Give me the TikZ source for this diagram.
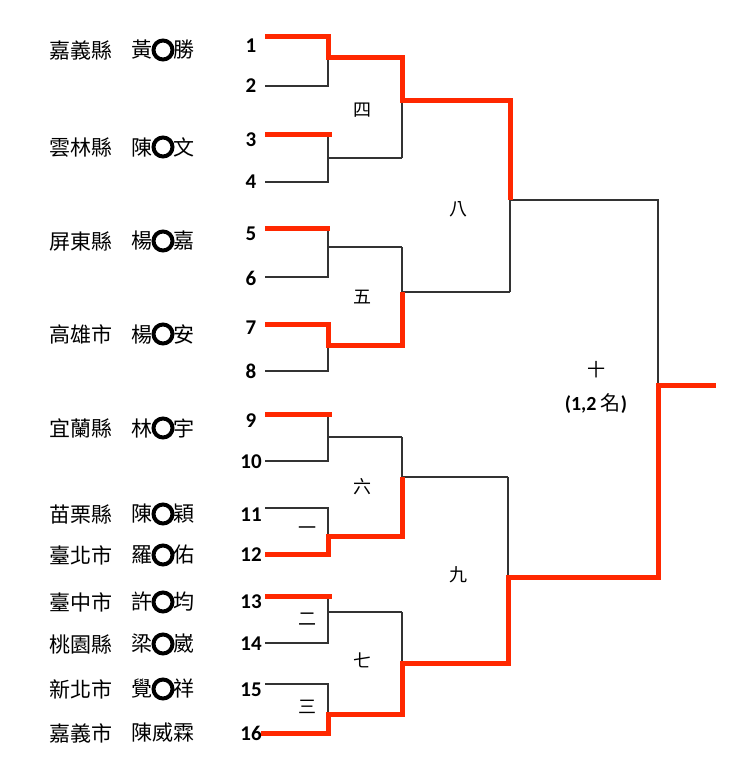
\documentclass[tikz,border=0pt]{standalone}
\usepackage{fontspec}
\setmainfont{Carlito}
\newfontfamily\cjk{Noto Sans CJK TC}
\usepackage{tikz}
\usetikzlibrary{calc, positioning}
\definecolor{winred}{RGB}{255,40,0}
\tikzstyle{num}=[inner sep=0pt, font=\fontsize{21}{21}\selectfont\bfseries]
\tikzstyle{nm}=[inner sep=0pt, font=\fontsize{21}{21}\selectfont\cjk]
\tikzstyle{rnd}=[inner sep=0pt, font=\fontsize{18}{18}\selectfont\cjk]
\tikzstyle{hide}=[draw, shape=circle, fill=white, line width=4pt, inner sep=0pt, minimum size=19pt]
\tikzstyle{lose}=[line width=1.5pt, black!80]
\tikzstyle{won}=[line width=5pt, winred]

\begin{document}
\begin{tikzpicture}[x=1pt, y=-1pt]
\useasboundingbox (0,0) rectangle (734,757);

% draw numbers and entry lines
\foreach \i/\y/\ly in {1/37/46, 2/86/86, 3/134/140, 4/182/182, 5/228/234, 6/277/278, 7/324/328, 8/371/371, 9/414/421, 10/461/462, 11/508/515, 12/554/555, 13/596/602, 14/643/644, 15/684/690, 16/733/733}{
\node[num] (n\i) at (251,\ly) {\i};
\coordinate (s\i) at (265,\y);
\coordinate (e\i) at (328,\y);
}

% players
\foreach \k/\y/\c/\a/\b in {1/50/嘉義縣/黃/勝, 3/147/雲林縣/陳/文, 5/241/屏東縣/楊/嘉, 7/334/高雄市/楊/安, 9/428/宜蘭縣/林/宇, 11/514/苗栗縣/陳/穎, 12/555/臺北市/羅/佑, 13/602/臺中市/許/均, 14/644/桃園縣/梁/崴, 15/689/新北市/覺/祥}{
\node[nm] (c\k) at (81,\y) {\c};
\node[nm] (p\k) at (163,\y) {\a\hspace{1em}\b};
\node[hide] (o\k) at (p\k.center) {};
}
\node[nm] (c16) at (81,733) {嘉義市};
\node[nm] (p16) at (163,733) {陳威霖};

% match points
\coordinate (m1) at (328,58);
\coordinate (m2) at (328,158);
\coordinate (m3) at (328,247);
\coordinate (m4) at (328,345);
\coordinate (m5) at (328,437);
\coordinate (m6) at (328,536);
\coordinate (m7) at (328,612);
\coordinate (m8) at (328,714);
\coordinate (q1) at (402,101);
\coordinate (q2) at (402,292);
\coordinate (q3) at (402,477);
\coordinate (q4) at (402,663);
\coordinate (r1) at (510,200);
\coordinate (r2) at (508,577);
\coordinate (f) at (658,385);
\coordinate (fin) at (716,385);

\foreach \a/\b in {1/2, 3/4, 5/6, 7/8, 9/10, 11/12, 13/14, 15/16}
\draw[lose] (s\a) -- (e\a) -- (e\b) -- (s\b);
\foreach \m/\q in {m1/q1, m2/q1, m3/q2, m4/q2, m5/q3, m6/q3, m7/q4, m8/q4}
\draw[lose] (\m) -- (\m -| \q);
\foreach \u/\v/\q in {m1/m2/q1, m3/m4/q2, m5/m6/q3, m7/m8/q4}
\draw[lose] (\u -| \q) -- (\v -| \q);
\foreach \q/\r in {q1/r1, q2/r1, q3/r2, q4/r2}
\draw[lose] (\q) -- (\q -| \r);
\draw[lose] (q1 -| r1) -- (q2 -| r1);
\draw[lose] (q3 -| r2) -- (q4 -| r2);
\draw[lose] (r1) -- (r1 -| f) -- (r2 -| f);
\draw[lose] (f) -- (fin);

% winners
\draw[won] (s1) -- (e1) -- (m1) -- (m1 -| q1) -- (q1) -- (q1 -| r1) -- (r1);
\draw[won] (s3) -- ($(e3)+(4,0)$);
\draw[won] (s5) -- ($(e5)+(2,0)$);
\draw[won] (s7) -- (e7) -- (m4) -- (m4 -| q2) -- (q2);
\draw[won] (s9) -- ($(e9)+(4,0)$);
\draw[won] (s12) -- (e12) -- (m6) -- (m6 -| q3) -- (q3);
\draw[won] (s13) -- ($(e13)+(4,0)$);
\draw[won] ($(s16)+(-4,0)$) -- (e16) -- (m8) -- (m8 -| q4) -- (q4) -- (q4 -| r2) -- (r2) -- (r2 -| f) -- (f) -- (fin);

% round labels
\node[rnd] (g1) at (307,531) {一};
\node[rnd] (g2) at (307,619) {二};
\node[rnd] (g3) at (307,707) {三};
\node[rnd] (g4) at (362,110) {四};
\node[rnd] (g5) at (362,297) {五};
\node[rnd] (g6) at (362,487) {六};
\node[rnd] (g7) at (362,660) {七};
\node[rnd] (g8) at (458,209) {八};
\node[rnd] (g9) at (458,575) {九};
\node[rnd] (g10) at (596,370) {十};
\node[num, font=\fontsize{20}{20}\selectfont\bfseries] (rank) at (596,404) {(1,2 {\cjk\mdseries 名})};
\end{tikzpicture}
\end{document}
